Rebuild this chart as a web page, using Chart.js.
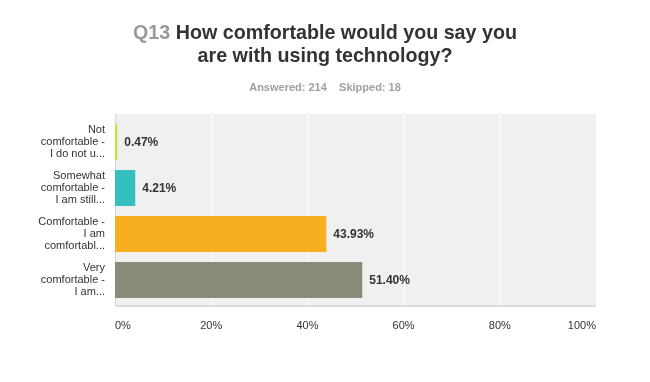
<!DOCTYPE html>
<html><head><meta charset="utf-8">
<script src="https://cdn.jsdelivr.net/npm/chart.js@4"></script>
<style>html,body{margin:0;padding:0;background:#fff}#wrap{width:650px;height:382px}</style>
</head><body><div id="wrap"><canvas id="c" width="650" height="382"></canvas></div>
<script>
const categories = [
  ["Not", "comfortable -", "I do not u..."],
  ["Somewhat", "comfortable -", "I am still..."],
  ["Comfortable -", "I am", "comfortabl..."],
  ["Very", "comfortable -", "I am..."]
];
const values = [0.47, 4.21, 43.93, 51.40];
const barColors = ["#d3dc3b", "#35bfbf", "#f7ae1f", "#8a8a79"];
const xTicks = [0, 20, 40, 60, 80, 100];
const titlePrefix = "Q13";
const titleLines = ["How comfortable would you say you", "are with using technology?"];
const subtitle = "Answered: 214    Skipped: 18";

const FONT = "Arial, 'Liberation Sans', sans-serif";
const EXT_TOP = 5, EXT_BOTTOM = 4;

const bgPlugin = {
  id: 'bg',
  beforeDatasetsDraw(chart) {
    const {ctx, chartArea: a} = chart;
    const xs = chart.scales.x;
    const top = a.top - EXT_TOP, bottom = a.bottom + EXT_BOTTOM;
    ctx.save();
    ctx.fillStyle = '#f0f0f0';
    ctx.fillRect(a.left, top, a.right - a.left, bottom - top);
    ctx.strokeStyle = '#ffffff';
    ctx.lineWidth = 1;
    xTicks.forEach(v => {
      const x = Math.round(xs.getPixelForValue(v)) + 0.5;
      if (v === 0) return;
      ctx.beginPath(); ctx.moveTo(x, top); ctx.lineTo(x, bottom); ctx.stroke();
    });
    ctx.strokeStyle = '#d4d4d4';
    const lx = Math.round(a.left) + 0.5;
    ctx.beginPath(); ctx.moveTo(lx, top); ctx.lineTo(lx, bottom); ctx.stroke();
    ctx.strokeStyle = '#dcdcdc';
    ctx.lineWidth = 2;
    ctx.beginPath(); ctx.moveTo(a.left, bottom - 1); ctx.lineTo(a.right, bottom - 1); ctx.stroke();
    ctx.restore();
  }
};

const titlePlugin = {
  id: 'tt',
  afterDraw(chart) {
    const ctx = chart.ctx;
    ctx.save();
    ctx.textBaseline = 'alphabetic';
    ctx.font = "bold 19.7px " + FONT;
    const cx = 325;
    const l1a = titlePrefix + " ";
    const l1b = titleLines[0];
    const w = ctx.measureText(l1a + l1b).width;
    const wa = ctx.measureText(l1a).width;
    let x0 = cx - w / 2;
    ctx.textAlign = 'left';
    ctx.fillStyle = '#999999';
    ctx.fillText(l1a, x0, 39);
    ctx.fillStyle = '#333333';
    ctx.fillText(l1b, x0 + wa, 39);
    ctx.textAlign = 'center';
    ctx.fillText(titleLines[1], cx, 62);
    ctx.font = "bold 11px " + FONT;
    ctx.fillStyle = '#a0a0a0';
    ctx.fillText(subtitle, cx, 91);
    ctx.restore();
  }
};

const labelPlugin = {
  id: 'lbl',
  afterDatasetsDraw(chart) {
    const ctx = chart.ctx;
    const meta = chart.getDatasetMeta(0);
    ctx.save();
    ctx.font = "bold 12px " + FONT;
    ctx.fillStyle = '#333333';
    ctx.textAlign = 'left';
    ctx.textBaseline = 'middle';
    meta.data.forEach((el, i) => {
      ctx.fillText(values[i].toFixed(2) + '%', el.x + 7, el.y + 1);
    });
    ctx.restore();
  }
};

new Chart(document.getElementById('c'), {
  type: 'bar',
  data: {
    labels: categories,
    datasets: [{
      data: values,
      backgroundColor: barColors,
      borderWidth: 0,
      categoryPercentage: 1.0,
      barPercentage: 0.78
    }]
  },
  options: {
    indexAxis: 'y',
    responsive: false,
    animation: false,
    devicePixelRatio: 1,
    layout: { padding: { top: 119, right: 54, left: 0, bottom: 0 } },
    plugins: { legend: { display: false }, title: { display: false }, tooltip: { enabled: false } },
    scales: {
      x: {
        min: 0, max: 100,
        afterBuildTicks(scale) { scale.ticks = xTicks.map(v => ({ value: v })); },
        afterFit(scale) { scale.height = 79; },
        grid: { display: false, drawTicks: false },
        border: { display: false },
        ticks: {
          padding: 16,
          align: 'inner',
          color: '#333333',
          font: { family: FONT, size: 11 },
          callback: v => v + '%',
          maxRotation: 0
        }
      },
      y: {
        afterFit(scale) { scale.width = 115; },
        grid: { display: false, drawTicks: false },
        border: { display: false },
        ticks: {
          padding: 10,
          color: '#333333',
          font: { family: FONT, size: 11, lineHeight: 1.1 },
          crossAlign: 'near'
        }
      }
    }
  },
  plugins: [bgPlugin, titlePlugin, labelPlugin]
});
</script>
</body></html>
